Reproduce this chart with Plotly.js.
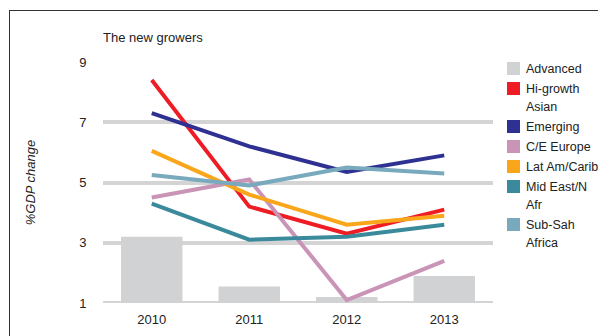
<!DOCTYPE html>
<html>
<head>
<meta charset="utf-8">
<script src="https://cdn.plot.ly/plotly-3.0.1.min.js"></script>
<style>
  html, body { margin: 0; padding: 0; background: #fff; }
  #frame { position: absolute; left: 9px; top: 10px; width: 700px; height: 400px; border: 1.5px solid #333; box-sizing: border-box; }
  #chart { position: absolute; left: 0; top: 0; width: 598px; height: 336px; }
</style>
</head>
<body>
<div id="frame"></div>
<div id="chart"></div>
<script>
const years = ['2010', '2011', '2012', '2013'];
const advanced = [3.2, 1.55, 1.2, 1.9];
const hiGrowthAsian = [8.4, 4.2, 3.3, 4.1];
const emerging = [7.3, 6.2, 5.35, 5.9];
const ceEurope = [4.5, 5.1, 1.1, 2.4];
const latAmCarib = [6.05, 4.6, 3.6, 3.9];
const midEastNAfr = [4.3, 3.1, 3.2, 3.6];
const subSahAfrica = [5.25, 4.9, 5.5, 5.3];

const seriesNames = ['Advanced', 'Hi-growth Asian', 'Emerging', 'C/E Europe', 'Lat Am/Carib', 'Mid East/N Afr', 'Sub-Sah Africa'];
const legendLines = [['Advanced'], ['Hi-growth', 'Asian'], ['Emerging'], ['C/E Europe'], ['Lat Am/Carib'], ['Mid East/N', 'Afr'], ['Sub-Sah', 'Africa']];
const colors = ['#d1d2d4', '#ee1c25', '#2e3192', '#c994b6', '#faa61a', '#3a8a9b', '#78a9bd'];
const lineData = [hiGrowthAsian, emerging, ceEurope, latAmCarib, midEastNAfr, subSahAfrica];

const W = 598, H = 336;
const M = { l: 103, r: 105, t: 62, b: 33 };
const pw = W - M.l - M.r, ph = H - M.t - M.b;
const px2x = p => (p - M.l) / pw;
const py2y = p => (H - M.b - p) / ph;

const traces = [];
traces.push({
  type: 'bar', x: years, y: advanced, name: seriesNames[0],
  marker: { color: colors[0] }, width: 0.63, hoverinfo: 'y'
});
lineData.forEach((d, i) => {
  traces.push({
    type: 'scatter', mode: 'lines', x: years, y: d, name: seriesNames[i + 1],
    line: { color: colors[i + 1], width: 4 }
  });
});

// baseline gridline at y = 1
const shapes = [{
  type: 'line', xref: 'paper', yref: 'y', x0: 0, x1: 1, y0: 1, y1: 1,
  line: { color: '#d4d4d4', width: 4 }, layer: 'below'
}];
const annotations = [];
// custom legend with square swatches
const sw = 13, lineStep = 18, itemGap = 2;
let cy = 68.5;
legendLines.forEach((lines, i) => {
  shapes.push({
    type: 'rect', xref: 'paper', yref: 'paper',
    x0: px2x(507), x1: px2x(507 + sw), y0: py2y(cy - sw / 2), y1: py2y(cy + sw / 2),
    fillcolor: colors[i], line: { width: 0 }
  });
  lines.forEach((t, j) => {
    annotations.push({
      xref: 'paper', yref: 'paper', x: px2x(524), y: py2y(cy + j * lineStep),
      xanchor: 'left', yanchor: 'middle', text: t, showarrow: false,
      font: { size: 12.5, color: '#222' }
    });
  });
  cy += lines.length * lineStep + itemGap;
});

const layout = {
  width: W, height: H,
  margin: M,
  paper_bgcolor: 'rgba(0,0,0,0)', plot_bgcolor: 'rgba(0,0,0,0)',
  barmode: 'overlay', showlegend: false,
  font: { family: 'Liberation Sans, Arial, sans-serif', color: '#222', size: 13 },
  title: { text: 'The new growers', x: 103 / W, xanchor: 'left', y: 1 - 37 / H, yanchor: 'middle', font: { size: 13, color: '#222' } },
  xaxis: {
    type: 'category', range: [-0.5, 3.5], showgrid: false, zeroline: false, showline: false,
    ticks: 'outside', ticklen: 4, tickcolor: 'rgba(0,0,0,0)', tickfont: { size: 13, color: '#222' }
  },
  yaxis: {
    range: [1, 9], tickvals: [1, 3, 5, 7, 9], showgrid: true, gridcolor: '#d4d4d4', gridwidth: 4,
    zeroline: false, showline: false, ticks: 'outside', ticklen: 13, tickcolor: 'rgba(0,0,0,0)',
    tickfont: { size: 13, color: '#222' },
    title: { text: '<i>%GDP change</i>', font: { size: 13, color: '#222' }, standoff: 40 }
  },
  shapes: shapes,
  annotations: annotations
};

Plotly.newPlot('chart', traces, layout, { displayModeBar: false, staticPlot: true });
</script>
</body>
</html>
